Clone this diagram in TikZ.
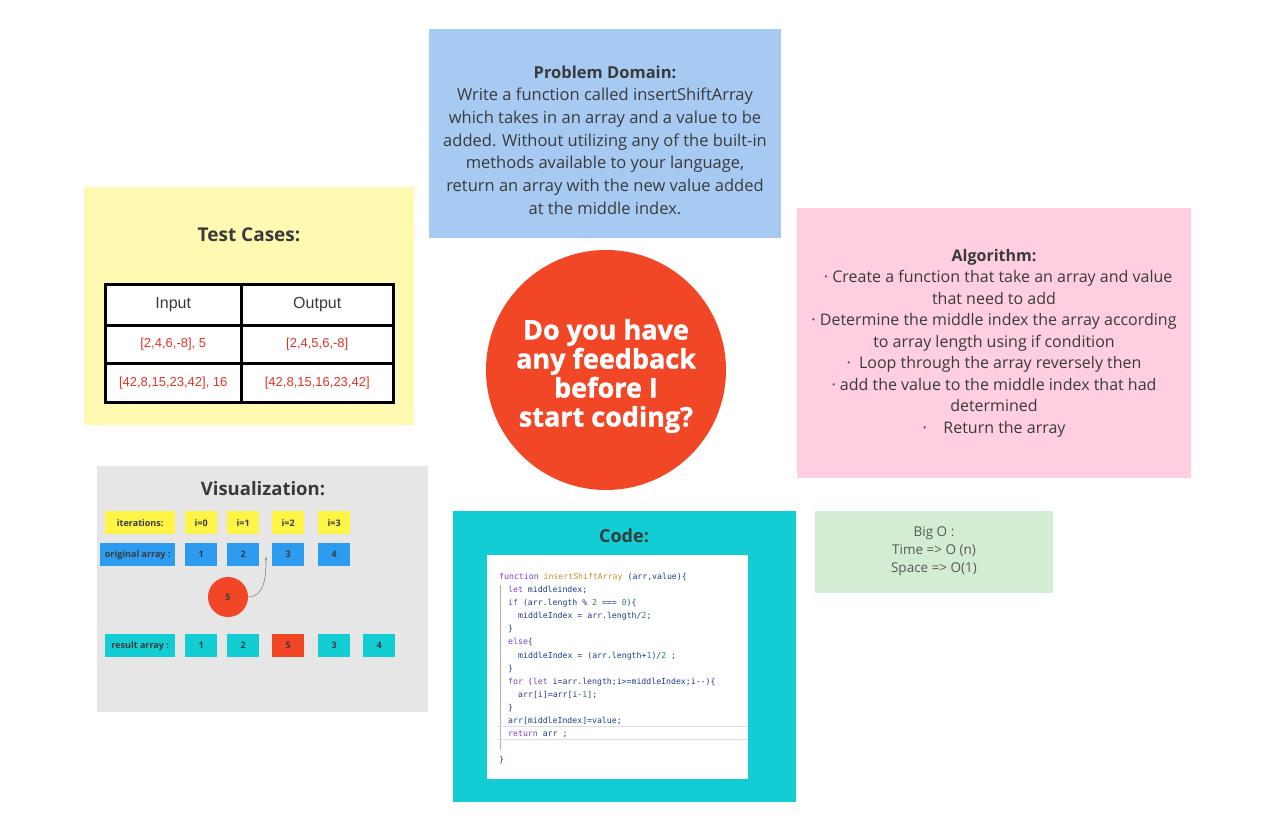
\documentclass[tikz,border=0pt]{standalone}
\usepackage{fontspec}
\setmainfont{Open Sans}
\setmonofont{DejaVu Sans Mono}
\newfontfamily\tablefont{Liberation Sans}
\newfontfamily\heavyfont{Open Sans}[FakeBold=1.3]
\usepackage{tikz}
\usepackage{xcolor}
\usetikzlibrary{arrows.meta}

\definecolor{stickyblue}{HTML}{A7CAF3}
\definecolor{stickyyellow}{HTML}{FFF9B1}
\definecolor{stickypink}{HTML}{FFCEE0}
\definecolor{stickygray}{HTML}{E6E6E6}
\definecolor{stickycyan}{HTML}{12CDD4}
\definecolor{stickygreen}{HTML}{D2EDD4}
\definecolor{redorange}{HTML}{F24726}
\definecolor{cellyellow}{HTML}{FEF445}
\definecolor{cellblue}{HTML}{2D9BF0}
\definecolor{inkgray}{HTML}{3A3A3A}
\definecolor{tablered}{HTML}{E0352B}
\definecolor{codekw}{HTML}{7A3FC8}
\definecolor{codeid}{HTML}{1F3C88}
\definecolor{codefn}{HTML}{B8962E}
\definecolor{codenum}{HTML}{2E8B57}

\tikzset{
  sticky/.style={draw=none, inner sep=0pt, anchor=north west},
  bodytext/.style={align=center, text=inkgray, font=\fontsize{16.5}{22.7}\selectfont},
  title/.style={text=inkgray, font=\bfseries\fontsize{19}{24}\selectfont},
  tcell/.style={draw=black, fill=white, line width=2.5pt, inner sep=0pt, anchor=north west},
  theadcell/.style={tcell, minimum height=41, text=inkgray, font=\tablefont\fontsize{16}{18}\selectfont},
  tbodycell/.style={tcell, text=tablered, font=\tablefont\fontsize{13}{15}\selectfont},
  vcell/.style={inner sep=0pt, minimum width=32, minimum height=23, anchor=north west,
    text=inkgray, font=\bfseries\fontsize{9}{10}\selectfont},
  vlabel/.style={vcell, minimum width=70}
}

\begin{document}
\begin{tikzpicture}[x=1pt,y=-1pt]
\useasboundingbox[fill=white] (0,0) rectangle (1279,834);

\node[sticky, fill=stickyblue, minimum width=352, minimum height=209] (problem) at (429,29) {};
\node[bodytext] (problemtext) at (605,140) {\textbf{Problem Domain:}\\
Write a function called insertShiftArray\\
which takes in an array and a value to be\\
added. Without utilizing any of the built-in\\
methods available to your language,\\
return an array with the new value added\\
at the middle index.};

\node[sticky, fill=stickyyellow, minimum width=330, minimum height=238] (tests) at (84,187) {};
\node[title] (teststitle) at (249,235) {Test Cases:};
\node[theadcell, minimum width=136] (inhead) at (104,283) {Input};
\node[theadcell, minimum width=152] (outhead) at (240,283) {Output};
\node[tbodycell, minimum width=136, minimum height=38] (inone) at (104,324) {[2,4,6,-8], 5};
\node[tbodycell, minimum width=152, minimum height=38] (outone) at (240,324) {[2,4,5,6,-8]};
\node[tbodycell, minimum width=136, minimum height=39] (intwo) at (104,362) {[42,8,15,23,42], 16};
\node[tbodycell, minimum width=152, minimum height=39] (outtwo) at (240,362) {[42,8,15,16,23,42]};

\node[circle, fill=redorange, minimum size=240, inner sep=0pt] (feedback) at (606,370) {};
\node[align=center, text=white, font=\heavyfont\bfseries\fontsize{27}{29}\selectfont] (feedbacktext) at (606,376) {Do you have\\any feedback\\before I\\start coding?};

\node[sticky, fill=stickypink, minimum width=394, minimum height=270] (algo) at (797,208) {};
\node[bodytext, font=\fontsize{16}{21.5}\selectfont] (algotext) at (994,343) {\textbf{Algorithm:}\\
~~· Create a function that take an array and value\\
that need to add\\
· Determine the middle index the array according\\
to array length using if condition\\
·~~Loop through the array reversely then\\
· add the value to the middle index that had\\
determined\\
·~~~~Return the array};

\node[sticky, fill=stickygray, minimum width=331, minimum height=246] (visual) at (97,466) {};
\node[title, font=\bfseries\fontsize{18.5}{24}\selectfont] (visualtitle) at (263,489) {Visualization:};
\node[vlabel, fill=cellyellow] (iterlabel) at (105,511) {iterations:};
\node[vcell, fill=cellyellow] (itzero) at (185,511) {i=0};
\node[vcell, fill=cellyellow] (itone) at (227,511) {i=1};
\node[vcell, fill=cellyellow] (ittwo) at (272,511) {i=2};
\node[vcell, fill=cellyellow] (itthree) at (318,511) {i=3};
\node[vlabel, fill=cellblue, minimum width=75] (origlabel) at (100,543) {original array :};
\node[vcell, fill=cellblue] (origone) at (185,543) {1};
\node[vcell, fill=cellblue] (origtwo) at (227,543) {2};
\node[vcell, fill=cellblue] (origthree) at (272,543) {3};
\node[vcell, fill=cellblue] (origfour) at (318,543) {4};
\node[circle, fill=redorange, minimum size=40, inner sep=0pt, text=inkgray, font=\bfseries\fontsize{9}{10}\selectfont] (five) at (228,597) {5};
\coordinate (slot) at (266,557);
\draw[gray, line width=0.6pt, -{Stealth[length=3pt,width=2.5pt]}] (five.east) to[out=0, in=-90] (slot);
\node[vlabel, fill=stickycyan] (reslabel) at (105,634) {result array :};
\node[vcell, fill=stickycyan] (resone) at (185,634) {1};
\node[vcell, fill=stickycyan] (restwo) at (227,634) {2};
\node[vcell, fill=redorange] (resfive) at (272,634) {5};
\node[vcell, fill=stickycyan] (resthree) at (318,634) {3};
\node[vcell, fill=stickycyan] (resfour) at (363,634) {4};

\node[sticky, fill=stickycyan, minimum width=343, minimum height=291] (code) at (453,511) {};
\node[text=inkgray, font=\bfseries\fontsize{18}{22}\selectfont] (codetitle) at (624,536) {Code:};
\node[sticky, fill=white, minimum width=261, minimum height=224] (editor) at (487,555) {};
\draw[gray!60, line width=0.8pt] (500,585) -- (500,750);
\draw[gray!25, line width=0.5pt] (497,726) -- (748,726);
\draw[gray!25, line width=0.5pt] (497,739) -- (748,739);
\node[anchor=north west, inner sep=0pt, align=left, text=codeid, font=\ttfamily\fontsize{8.2}{13.1}\selectfont] (codetext) at (499,573) {%
\textcolor{codekw}{function} \textcolor{codefn}{insertShiftArray} (arr,value)\{\\
\hspace*{9pt}\textcolor{codekw}{let} middleindex;\\
\hspace*{9pt}\textcolor{codekw}{if} (arr.length \% \textcolor{codenum}{2} === \textcolor{codenum}{0})\{\\
\hspace*{19pt}middleIndex = arr.length/\textcolor{codenum}{2};\\
\hspace*{9pt}\}\\
\hspace*{9pt}\textcolor{codekw}{else}\{\\
\hspace*{19pt}middleIndex = (arr.length+\textcolor{codenum}{1})/\textcolor{codenum}{2} ;\\
\hspace*{9pt}\}\\
\hspace*{9pt}\textcolor{codekw}{for} (\textcolor{codekw}{let} i=arr.length;i>=middleIndex;i--)\{\\
\hspace*{19pt}arr[i]=arr[i-\textcolor{codenum}{1}];\\
\hspace*{9pt}\}\\
\hspace*{9pt}arr[middleIndex]=value;\\
\hspace*{9pt}\textcolor{codekw}{return} arr ;\\
\mbox{}\\
\}};

\node[sticky, fill=stickygreen, minimum width=238, minimum height=82] (bigo) at (815,511) {};
\node[align=center, text=inkgray!85, font=\fontsize{13.5}{18}\selectfont] (bigotext) at (934,551) {Big O :\\Time => O (n)\\Space => O(1)};
\end{tikzpicture}
\end{document}
